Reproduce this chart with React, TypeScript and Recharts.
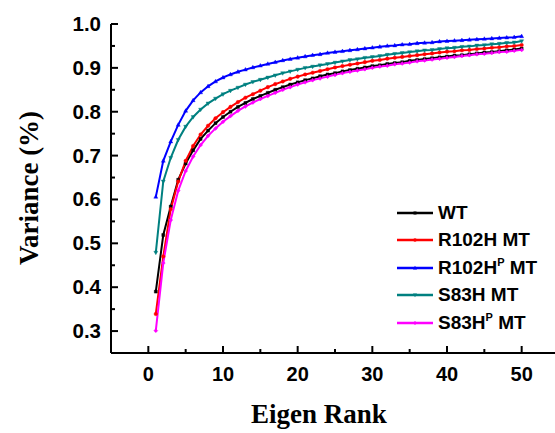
import React from 'react';
import { LineChart, Line, XAxis, YAxis, Legend } from 'recharts';

const ranks = [1,2,3,4,5,6,7,8,9,10,11,12,13,14,15,16,17,18,19,20,21,22,23,24,25,26,27,28,29,30,31,32,33,34,35,36,37,38,39,40,41,42,43,44,45,46,47,48,49,50];

const wt = [0.390,0.519,0.584,0.645,0.682,0.712,0.738,0.757,0.774,0.788,0.800,0.811,0.820,0.829,0.836,0.843,0.850,0.856,0.862,0.867,0.872,0.876,0.881,0.885,0.888,0.892,0.895,0.898,0.901,0.904,0.906,0.909,0.911,0.913,0.916,0.918,0.920,0.922,0.924,0.926,0.928,0.929,0.931,0.933,0.935,0.936,0.938,0.940,0.942,0.944];

const r102h = [0.339,0.470,0.578,0.641,0.688,0.722,0.748,0.768,0.785,0.799,0.811,0.822,0.832,0.840,0.848,0.856,0.863,0.869,0.875,0.880,0.885,0.889,0.893,0.897,0.901,0.904,0.907,0.910,0.913,0.916,0.918,0.921,0.923,0.925,0.927,0.929,0.931,0.933,0.935,0.937,0.938,0.940,0.941,0.943,0.944,0.946,0.947,0.949,0.950,0.952];

const r102hp = [0.606,0.688,0.732,0.770,0.802,0.826,0.844,0.858,0.869,0.878,0.885,0.891,0.896,0.901,0.905,0.909,0.913,0.917,0.920,0.923,0.926,0.929,0.931,0.934,0.936,0.938,0.940,0.942,0.944,0.946,0.948,0.950,0.951,0.953,0.954,0.956,0.957,0.958,0.960,0.961,0.962,0.963,0.964,0.965,0.966,0.967,0.968,0.969,0.970,0.972];

const s83h = [0.479,0.641,0.695,0.736,0.766,0.788,0.805,0.819,0.830,0.840,0.848,0.855,0.862,0.868,0.873,0.878,0.883,0.888,0.892,0.896,0.900,0.903,0.906,0.909,0.912,0.915,0.918,0.920,0.923,0.925,0.927,0.930,0.932,0.934,0.936,0.938,0.940,0.941,0.943,0.945,0.946,0.948,0.949,0.951,0.952,0.954,0.955,0.957,0.958,0.961];

const s83hp = [0.301,0.455,0.553,0.620,0.665,0.698,0.724,0.745,0.762,0.777,0.790,0.802,0.812,0.821,0.829,0.836,0.843,0.850,0.856,0.862,0.867,0.872,0.876,0.880,0.884,0.888,0.891,0.894,0.897,0.900,0.903,0.905,0.908,0.910,0.912,0.915,0.917,0.919,0.921,0.923,0.925,0.927,0.929,0.931,0.932,0.934,0.936,0.937,0.939,0.941];

const xTicks = [0,5,10,15,20,25,30,35,40,45,50];
const yTicks = [0.3,0.35,0.4,0.45,0.5,0.55,0.6,0.65,0.7,0.75,0.8,0.85,0.9,0.95,1.0];

const seriesNames = ['WT', 'R102H MT', 'R102HP MT', 'S83H MT', 'S83HP MT'];
const seriesKeys = ['wt', 'r102h', 'r102hp', 's83h', 's83hp'];
const seriesColors = ['#000000', '#ff0000', '#0000ff', '#008080', '#ff00ff'];
const seriesShapes = ['square', 'circle', 'triUp', 'triDown', 'diamond'];

const data = ranks.map((r, i) => ({
  rank: r,
  wt: wt[i],
  r102h: r102h[i],
  r102hp: r102hp[i],
  s83h: s83h[i],
  s83hp: s83hp[i],
}));

const FONT = '"Liberation Sans", Arial, sans-serif';
const SERIF = '"Liberation Serif", "Times New Roman", serif';

function markerPath(shape: string, cx: number, cy: number): string {
  switch (shape) {
    case 'square':
      return `M${cx - 1.5},${cy - 1.5}h3v3h-3z`;
    case 'triUp':
      return `M${cx},${cy - 2.2}L${cx + 2},${cy + 1.4}L${cx - 2},${cy + 1.4}z`;
    case 'triDown':
      return `M${cx},${cy + 2.2}L${cx + 2},${cy - 1.4}L${cx - 2},${cy - 1.4}z`;
    case 'diamond':
      return `M${cx},${cy - 2}L${cx + 2},${cy}L${cx},${cy + 2}L${cx - 2},${cy}z`;
    default:
      return `M${cx - 1.8},${cy}a1.8,1.8 0 1,0 3.6,0a1.8,1.8 0 1,0 -3.6,0`;
  }
}

const makeDot = (shape: string, color: string) => (props: any) => {
  const { cx, cy, index } = props;
  if (cx == null || cy == null) return <g key={`e${index}`} />;
  return <path key={`d${index}`} d={markerPath(shape, cx, cy)} fill={color} stroke={color} strokeWidth={0.4} />;
};

const isMajorX = (v: number) => Math.abs(v % 10) < 1e-6;
const isMajorY = (v: number) => Math.abs(v * 10 - Math.round(v * 10)) < 1e-6;

const BottomTick = (props: any) => {
  const { x, y, payload } = props;
  const v = payload.value;
  const major = isMajorX(v);
  return (
    <g>
      <line x1={x} x2={x} y1={y} y2={y - (major ? 7 : 4)} stroke="#000" strokeWidth={2} />
      {major && (
        <text x={x} y={y + 28} textAnchor="middle" fontFamily={FONT} fontWeight="bold" fontSize={20} fill="#000">
          {v}
        </text>
      )}
    </g>
  );
};

const TopTick = (props: any) => {
  const { x, y, payload } = props;
  const major = isMajorX(payload.value);
  return <line x1={x} x2={x} y1={y} y2={y + (major ? 7 : 4)} stroke="#000" strokeWidth={2} />;
};

const LeftTick = (props: any) => {
  const { x, y, payload } = props;
  const v = payload.value;
  const major = isMajorY(v);
  return (
    <g>
      <line x1={x} x2={x + (major ? 7 : 4)} y1={y} y2={y} stroke="#000" strokeWidth={2} />
      {major && (
        <text x={x - 10} y={y + 7} textAnchor="end" fontFamily={FONT} fontWeight="bold" fontSize={20.5} fill="#000">
          {v.toFixed(1)}
        </text>
      )}
    </g>
  );
};

const RightTick = (props: any) => {
  const { x, y, payload } = props;
  const major = isMajorY(payload.value);
  return <line x1={x} x2={x - (major ? 7 : 4)} y1={y} y2={y} stroke="#000" strokeWidth={2} />;
};

const XTitle = () => (
  <text x={319} y={423} textAnchor="middle" fontFamily={SERIF} fontWeight="bold" fontSize={27} fill="#000">
    Eigen Rank
  </text>
);

const YTitle = () => (
  <text
    x={0}
    y={0}
    transform="translate(38,188) rotate(-90)"
    textAnchor="middle"
    fontFamily={SERIF}
    fontWeight="bold"
    fontSize={27}
    fill="#000"
  >
    Variance (%)
  </text>
);

const renderName = (name: string) => {
  const m = name.match(/^(.*H)P( MT)$/);
  if (m) {
    return (
      <span>
        {m[1]}
        <sup style={{ fontSize: 11, verticalAlign: 'top', position: 'relative', top: -1 }}>P</sup>
        {m[2]}
      </span>
    );
  }
  return <span>{name}</span>;
};

const LegendContent = () => (
  <div style={{ fontFamily: FONT, fontWeight: 'bold', fontSize: 19, color: '#000' }}>
    {seriesNames.map((n, i) => (
      <div key={n} style={{ height: 27.5, display: 'flex', alignItems: 'center', whiteSpace: 'nowrap' }}>
        <svg width={36} height={10} style={{ marginRight: 5, flex: 'none' }}>
          <line x1={0} x2={36} y1={5} y2={5} stroke={seriesColors[i]} strokeWidth={2.5} />
          <path d={markerPath(seriesShapes[i], 18, 5)} fill={seriesColors[i]} />
        </svg>
        {renderName(n)}
      </div>
    ))}
  </div>
);

export default function App() {
  return (
    <div style={{ position: 'absolute', left: 0, top: 0, width: 555, height: 433, overflow: 'hidden', background: '#fff' }}>
      <LineChart width={560} height={433} data={data} margin={{ top: 24, right: 1, bottom: 0, left: 0 }}>
        <XAxis
          xAxisId={0}
          dataKey="rank"
          type="number"
          domain={[-5, 55]}
          ticks={xTicks}
          interval={0}
          height={80}
          tickLine={false}
          tickSize={0}
          tickMargin={0}
          axisLine={{ stroke: '#000', strokeWidth: 2 }}
          tick={<BottomTick />}
          label={<XTitle />}
        />
        <XAxis
          xAxisId="top"
          orientation="top"
          dataKey="rank"
          type="number"
          domain={[-5, 55]}
          ticks={xTicks}
          interval={0}
          height={0}
          tickLine={false}
          tickSize={0}
          tickMargin={0}
          axisLine={{ stroke: '#000', strokeWidth: 2 }}
          tick={<TopTick />}
        />
        <YAxis
          yAxisId={0}
          type="number"
          domain={[0.25, 1.0]}
          ticks={yTicks}
          interval={0}
          width={111}
          tickLine={false}
          tickSize={0}
          tickMargin={0}
          axisLine={{ stroke: '#000', strokeWidth: 2 }}
          tick={<LeftTick />}
          label={<YTitle />}
        />
        <YAxis
          yAxisId="right"
          orientation="right"
          type="number"
          domain={[0.25, 1.0]}
          ticks={yTicks}
          interval={0}
          width={0}
          tickLine={false}
          tickSize={0}
          tickMargin={0}
          axisLine={{ stroke: '#000', strokeWidth: 2 }}
          tick={<RightTick />}
        />
        <Legend
          layout="vertical"
          align="center"
          verticalAlign="middle"
          content={<LegendContent />}
          wrapperStyle={{ left: 397, top: 199, width: 160 }}
        />
        {seriesKeys.map((k, i) => (
          <Line
            key={k}
            xAxisId={0}
            yAxisId={0}
            type="linear"
            dataKey={k}
            name={seriesNames[i]}
            stroke={seriesColors[i]}
            strokeWidth={2}
            dot={makeDot(seriesShapes[i], seriesColors[i])}
            activeDot={false}
            isAnimationActive={false}
          />
        ))}
      </LineChart>
    </div>
  );
}
